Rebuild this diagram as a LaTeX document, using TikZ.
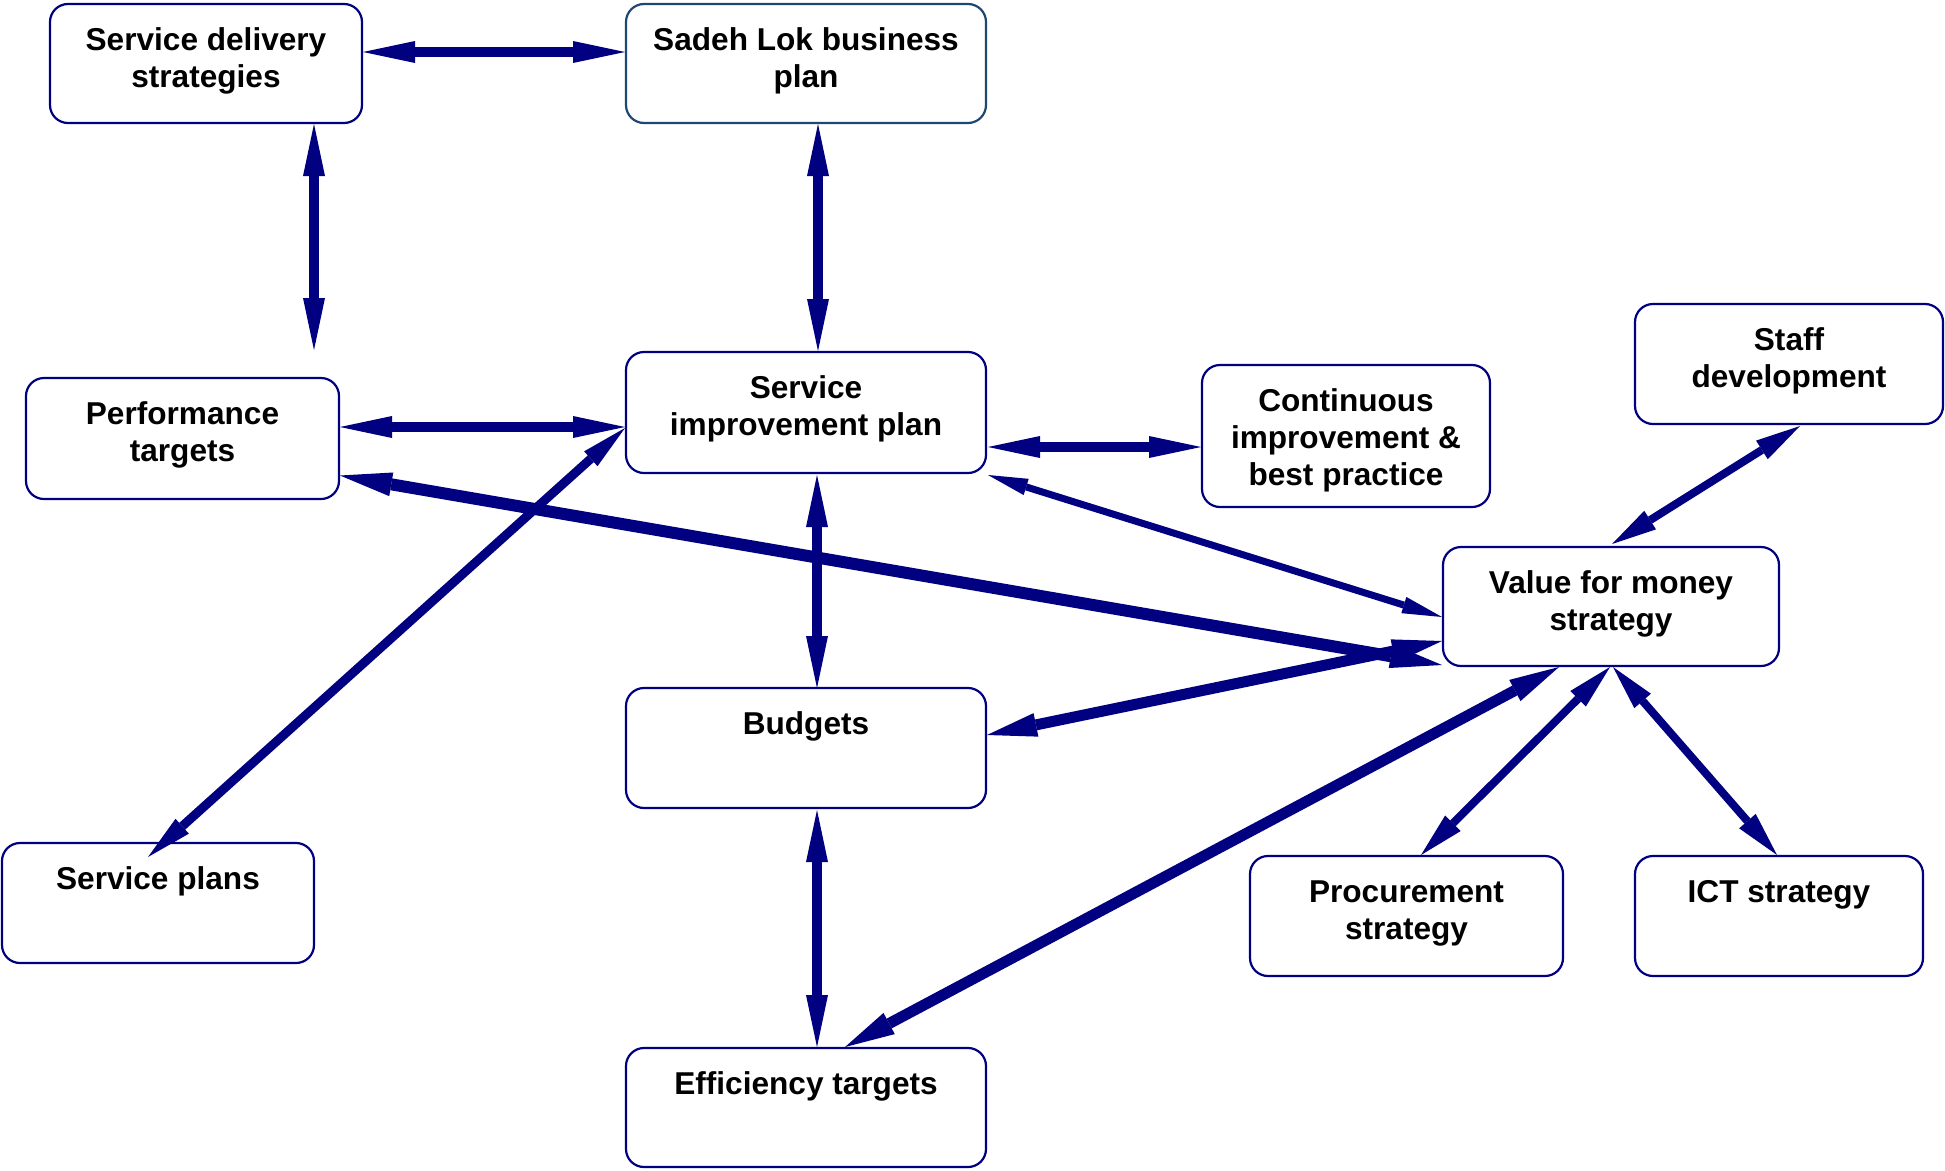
\documentclass[tikz,border=0pt]{standalone}
\usepackage{fontspec}
\setmainfont{Liberation Sans}
\usetikzlibrary{arrows.meta,calc}
\definecolor{navy}{RGB}{0,0,128}
\definecolor{sadehc}{RGB}{28,72,115}
\newcommand{\bt}[3]{\parbox[c][#2][t]{#1}{\centering\rule{0pt}{46pt}#3}}
\begin{document}
\begin{tikzpicture}[x=1pt,y=-1pt,
  box/.style={draw=navy, line width=2.2pt, rounded corners=18pt, inner sep=0pt, outer sep=0pt,
    font=\bfseries\fontsize{31.6pt}{37pt}\selectfont},
  arrA/.style={draw=navy, line width=10pt,
    arrows={Triangle[length=52pt,width=22pt,line width=0pt]-Triangle[length=52pt,width=22pt,line width=0pt]}},
  arrB/.style={draw=navy, line width=11pt,
    arrows={Triangle[length=50pt,width=24pt,line width=0pt]-Triangle[length=50pt,width=24pt,line width=0pt]}},
  arrThick/.style={draw=navy, line width=12pt,
    arrows={Triangle[length=52pt,width=24pt,line width=0pt]-Triangle[length=52pt,width=24pt,line width=0pt]}},
  arrThin/.style={draw=navy, line width=7pt,
    arrows={Triangle[length=40pt,width=17pt,line width=0pt]-Triangle[length=40pt,width=17pt,line width=0pt]}},
  arrC/.style={draw=navy, line width=9pt,
    arrows={Triangle[length=46pt,width=20pt,line width=0pt]-Triangle[length=46pt,width=20pt,line width=0pt]}},
  arrD/.style={draw=navy, line width=8pt,
    arrows={Triangle[length=45pt,width=22pt,line width=0pt]-Triangle[length=45pt,width=22pt,line width=0pt]}}]
\useasboundingbox (0,0) rectangle (1945,1170);

\node[box] (sds) at (206,63.5) {\bt{312pt}{119pt}{Service delivery\\strategies}};
\node[box, draw=sadehc] (sadeh) at (806,63.5) {\bt{360pt}{119pt}{Sadeh Lok business\\plan}};
\node[box] (pt) at (182.5,438.5) {\bt{313pt}{121pt}{Performance\\targets}};
\node[box] (sip) at (806,412.5) {\bt{360pt}{121pt}{Service\\improvement plan}};
\node[box] (cont) at (1346,436) {\bt{288pt}{142pt}{Continuous\\improvement \&\\best practice}};
\node[box] (staff) at (1789,364) {\bt{308pt}{120pt}{Staff\\development}};
\node[box] (vfm) at (1611,606.5) {\bt{336pt}{119pt}{Value for money\\strategy}};
\node[box] (bud) at (806,748) {\bt{360pt}{120pt}{Budgets}};
\node[box] (sp) at (158,903) {\bt{312pt}{120pt}{Service plans}};
\node[box] (eff) at (806,1107.5) {\bt{360pt}{119pt}{Efficiency targets}};
\node[box] (proc) at (1406.5,916) {\bt{313pt}{120pt}{Procurement\\strategy}};
\node[box] (ict) at (1779,916) {\bt{288pt}{120pt}{ICT strategy}};

\draw[arrA] ($(sds.east)+(1,-11.5)$) -- ($(sadeh.west)+(-1,-11.5)$);
\draw[arrA] ($(sds.south)+(108,1)$) -- ($(pt.north)+(131.5,-28)$);
\draw[arrA] ($(sadeh.south)+(12,1)$) -- ($(sip.north)+(12,-1)$);
\draw[arrA] ($(pt.east)+(1,-11.5)$) -- ($(sip.west)+(-1,14.5)$);
\draw[arrA] ($(sip.east)+(2,34.5)$) -- ($(cont.west)+(-1,11)$);
\draw[arrThin] ($(sip.south east)+(2,2)$) -- ($(vfm.west)+(-1,10.5)$);
\draw[arrThick] ($(pt.east)+(1,37)$) -- ($(vfm.south west)+(-1,-1)$);
\draw[arrB] ($(bud.east)+(1,-13)$) -- ($(vfm.west)+(-1,34.5)$);
\draw[arrC] ($(sip.west)+(-1,15.5)$) -- ($(sp.north)+(-10,14)$);
\draw[arrA] ($(sip.south)+(11,2)$) -- ($(bud.north)+(11,0)$);
\draw[arrA] ($(bud.south)+(11,2)$) -- ($(eff.north)+(11,-1)$);
\draw[arrB] ($(vfm.south)+(-52,1)$) -- ($(eff.north)+(39,-1)$);
\draw[arrD] ($(vfm.north)+(1,-3)$) -- ($(staff.south)+(11,2)$);
\draw[arrD] ($(vfm.south)+(-1,1)$) -- ($(proc.north)+(14.5,-1)$);
\draw[arrD] ($(vfm.south)+(2,1)$) -- ($(ict.north)+(-2,-1)$);
\end{tikzpicture}
\end{document}
